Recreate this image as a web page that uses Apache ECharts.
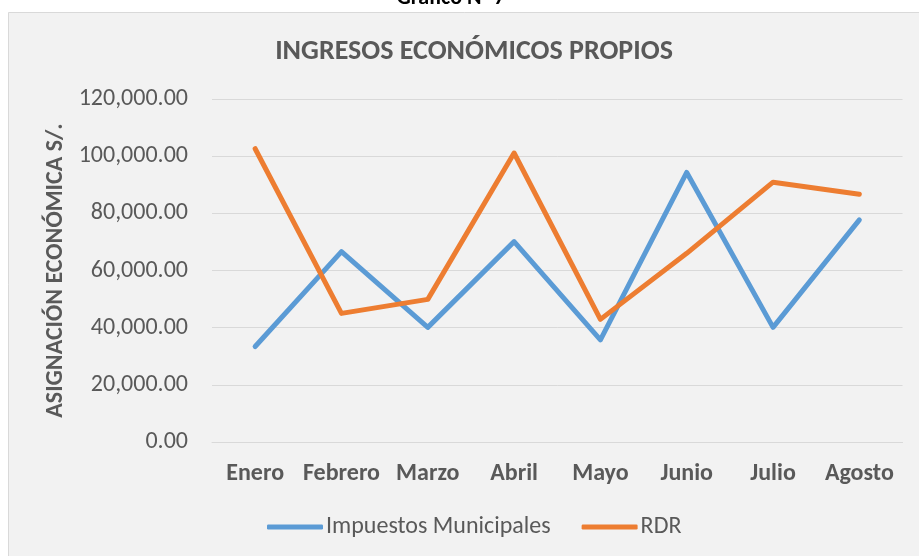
<!DOCTYPE html>
<html>
<head>
<meta charset="utf-8">
<script src="https://cdn.jsdelivr.net/npm/echarts@6/dist/echarts.min.js"></script>
<style>
html,body{margin:0;padding:0;background:#fff;}
#c{width:919px;height:556px;}
</style>
</head>
<body>
<div id="c"></div>
<script>
const categories = ['Enero','Febrero','Marzo','Abril','Mayo','Junio','Julio','Agosto'];
const impuestosMunicipales = [33400, 66600, 40100, 70100, 35700, 94300, 40100, 77700];
const rdr = [102600, 45000, 49900, 101100, 42900, 66000, 90900, 86700];
const yTicks = { min: 0, max: 120000, interval: 20000 };

const FONT = 'Carlito, Lato, "Open Sans", sans-serif';
const chart = echarts.init(document.getElementById('c'));
chart.setOption({
  backgroundColor: '#ffffff',
  animation: false,
  graphic: [
    { type: 'rect', z: -10, shape: { x: 8.5, y: 12.5, width: 1000, height: 600 },
      style: { fill: '#f2f2f2', stroke: '#d9d9d9', lineWidth: 1 } },
    { type: 'text', x: 451, y: 9, z: 10,
      style: { text: 'Gráfico N° 7', align: 'center', verticalAlign: 'bottom',
        font: 'bold 22px ' + FONT, fill: '#000' } }
  ],
  title: {
    text: 'INGRESOS ECONÓMICOS PROPIOS',
    left: 469, top: 33, textAlign: 'center',
    textStyle: { fontFamily: FONT, fontWeight: 'bold', fontSize: 28, color: '#595959' }
  },
  legend: {
    left: 262, top: 510,
    itemWidth: 56, itemHeight: 5, itemGap: 31,
    icon: 'roundRect',
    textStyle: { fontFamily: FONT, fontSize: 24, color: '#595959', padding: [0,0,0,-2] },
    data: ['Impuestos Municipales', 'RDR']
  },
  grid: { left: 212, right: 16.5, top: 99, bottom: 114, containLabel: false },
  xAxis: {
    type: 'category', data: categories, boundaryGap: true,
    axisLine: { show: true, lineStyle: { color: '#d9d9d9', width: 1 } },
    axisTick: { show: false },
    axisLabel: { fontFamily: FONT, fontWeight: 'bold', fontSize: 24, color: '#595959', margin: 20, interval: 0 }
  },
  yAxis: {
    type: 'value', min: yTicks.min, max: yTicks.max, interval: yTicks.interval,
    name: 'ASIGNACIÓN ECONÓMICA S/.', nameLocation: 'middle', nameGap: 144, nameRotate: 90,
    nameTextStyle: { fontFamily: FONT, fontWeight: 'bold', fontSize: 24, color: '#595959' },
    axisLine: { show: false }, axisTick: { show: false },
    axisLabel: { fontFamily: FONT, fontSize: 24, color: '#595959', margin: 24,
      formatter: v => v.toLocaleString('en-US', { minimumFractionDigits: 2, maximumFractionDigits: 2 }) },
    splitLine: { lineStyle: { color: '#d9d9d9', width: 1 } }
  },
  series: [
    { name: 'Impuestos Municipales', type: 'line', data: impuestosMunicipales, showSymbol: false, symbol: 'none',
      itemStyle: { color: '#5b9bd5' }, lineStyle: { color: '#5b9bd5', width: 5, cap: 'round', join: 'round' } },
    { name: 'RDR', type: 'line', data: rdr, showSymbol: false, symbol: 'none',
      itemStyle: { color: '#ed7d31' }, lineStyle: { color: '#ed7d31', width: 5, cap: 'round', join: 'round' } }
  ]
});
</script>
</body>
</html>
